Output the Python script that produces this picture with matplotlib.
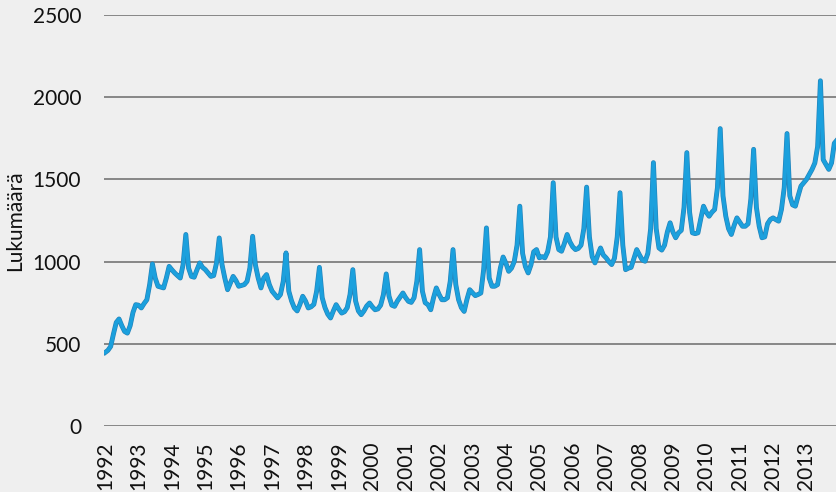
import matplotlib
matplotlib.use("Agg")
import matplotlib.pyplot as plt
import matplotlib.patheffects as pe

plt.rcParams['font.family'] = ['Lato', 'DejaVu Sans']

years = [str(y) for y in range(1992, 2014)]

# monthly counts, one row per year (Jan..Dec)
counts = [
    447, 460, 484, 560, 630, 651, 610, 575, 565, 610, 690, 738,          # 1992
    735, 718, 745, 768, 860, 986, 900, 850, 845, 840, 900, 971,          # 1993
    950, 931, 915, 900, 980, 1165, 960, 910, 905, 950, 992, 965,         # 1994
    951, 930, 910, 915, 990, 1144, 982, 900, 829, 870, 910, 885,         # 1995
    850, 855, 860, 880, 960, 1154, 980, 900, 840, 900, 921, 860,         # 1996
    820, 800, 779, 800, 880, 1053, 820, 760, 718, 700, 740, 789,         # 1997
    760, 718, 725, 740, 820, 965, 780, 720, 680, 657, 700, 738,          # 1998
    710, 687, 695, 720, 800, 951, 760, 700, 677, 700, 730, 748,          # 1999
    725, 707, 712, 735, 800, 925, 790, 735, 728, 760, 785, 809,          # 2000
    780, 758, 752, 780, 880, 1073, 820, 750, 738, 707, 780, 840,         # 2001
    800, 768, 768, 780, 880, 1073, 860, 768, 720, 697, 770, 829,         # 2002
    810, 793, 800, 809, 950, 1205, 900, 850, 850, 860, 960, 1028,        # 2003
    990, 941, 960, 1000, 1100, 1337, 1050, 970, 931, 980, 1060, 1073,    # 2004
    1023, 1030, 1023, 1060, 1150, 1480, 1150, 1073, 1063, 1110, 1165, 1120,  # 2005
    1090, 1073, 1080, 1100, 1200, 1453, 1150, 1030, 992, 1040, 1083, 1040,   # 2006
    1023, 1000, 982, 1020, 1150, 1419, 1100, 951, 960, 965, 1020, 1073,      # 2007
    1040, 1010, 1002, 1050, 1200, 1602, 1200, 1083, 1070, 1100, 1180, 1236,  # 2008
    1180, 1145, 1175, 1190, 1330, 1663, 1300, 1175, 1170, 1175, 1260, 1337,  # 2009
    1300, 1276, 1300, 1317, 1450, 1809, 1400, 1276, 1200, 1165, 1220, 1266,  # 2010
    1240, 1215, 1215, 1230, 1380, 1683, 1330, 1215, 1145, 1150, 1230, 1256,  # 2011
    1266, 1255, 1246, 1317, 1450, 1779, 1400, 1345, 1337, 1400, 1459, 1480,  # 2012
    1500, 1530, 1561, 1600, 1700, 2100, 1620, 1590, 1561, 1600, 1720, 1740,  # 2013
]

bg = '#efefef'
fig = plt.figure(figsize=(8.36, 4.92), dpi=100, facecolor=bg)
ax = fig.add_axes([104 / 836, 1 - 426 / 492, 732 / 836, 411 / 492], facecolor=bg)

x = list(range(len(counts)))
ax.plot(x, counts, color='#1ba0dd', lw=2.6, solid_joinstyle='round',
        path_effects=[pe.Stroke(linewidth=3.5, foreground='#2582b8'), pe.Normal()], zorder=3)

ax.set_ylim(0, 2500)
ax.set_xlim(-0.4, 262.6)
ax.set_yticks(range(0, 2501, 500))
ax.set_xticks(range(0, 12 * len(years), 12))
ax.set_xticklabels(years, rotation=90)

ax.grid(axis='y', color='#7f7f7f', lw=1.3)
ax.set_axisbelow(True)
for s in ax.spines.values():
    s.set_visible(False)
ax.tick_params(axis='both', length=0, labelsize=15, colors='#111111')
ax.tick_params(axis='y', pad=16.5)
ax.tick_params(axis='x', pad=11.5)

fig.text(15 / 836, 1 - 221 / 492, 'Lukumäärä', rotation=90, ha='center', va='center',
         fontsize=15, color='#111111')

fig.savefig('out.png', dpi=100, facecolor=bg)
